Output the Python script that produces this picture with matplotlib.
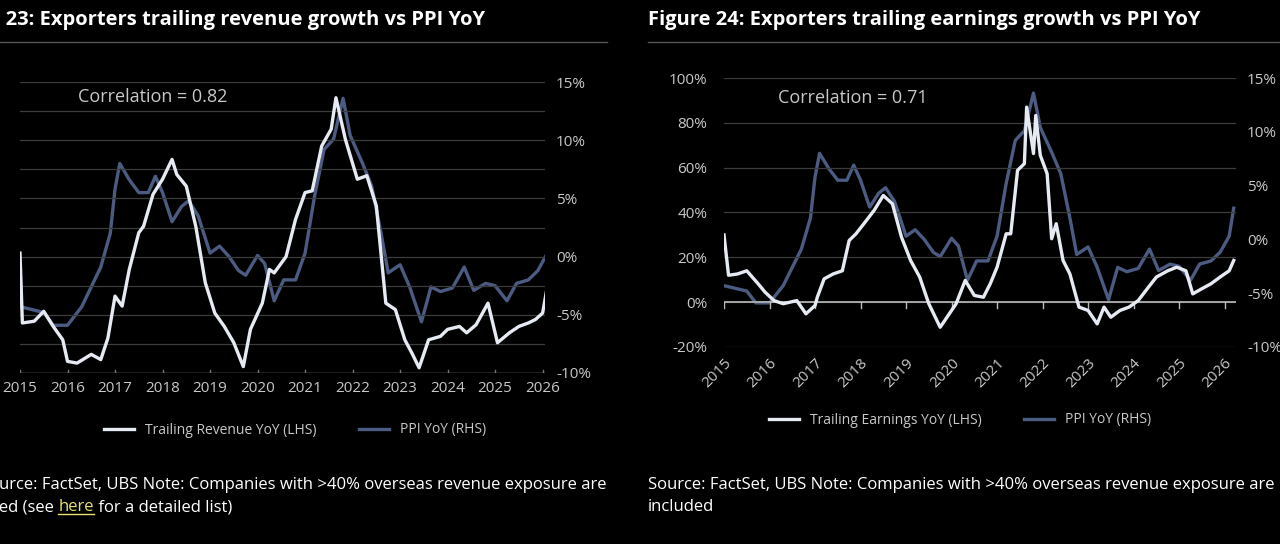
import matplotlib
matplotlib.use("Agg")
import matplotlib.pyplot as plt

plt.rcParams['font.family'] = ['Open Sans', 'DejaVu Sans']

# PPI YoY (%), shared by both panels
ppi_x = [2015.0, 2015.3, 2015.5, 2015.7, 2016.0, 2016.3, 2016.5, 2016.7, 2016.9, 2017.0,
         2017.1, 2017.3, 2017.5, 2017.7, 2017.85, 2018.0, 2018.2, 2018.4, 2018.55, 2018.75,
         2019.0, 2019.2, 2019.4, 2019.6, 2019.75, 2020.0, 2020.15, 2020.35, 2020.55, 2020.8,
         2021.0, 2021.2, 2021.4, 2021.6, 2021.8, 2021.95, 2022.2, 2022.4, 2022.6, 2022.75,
         2023.0, 2023.2, 2023.45, 2023.65, 2023.85, 2024.1, 2024.35, 2024.55, 2024.8, 2025.0,
         2025.25, 2025.45, 2025.7, 2025.9, 2026.1, 2026.2]
ppi_y = [-4.3, -4.6, -4.8, -5.9, -5.9, -4.3, -2.6, -0.9, 2.0, 5.8,
         8.0, 6.6, 5.5, 5.5, 6.9, 5.5, 3.0, 4.3, 4.8, 3.5,
         0.3, 0.9, 0.0, -1.2, -1.6, 0.1, -0.6, -3.8, -2.0, -2.0,
         0.3, 5.2, 9.2, 10.1, 13.6, 10.4, 8.1, 6.1, 2.0, -1.4,
         -0.7, -2.6, -5.6, -2.6, -3.0, -2.7, -0.9, -2.9, -2.3, -2.5,
         -3.8, -2.3, -2.0, -1.2, 0.3, 2.9]

# Trailing revenue YoY (%), LHS of figure 23
rev_x = [2015.0, 2015.05, 2015.3, 2015.5, 2015.7, 2015.9, 2016.0, 2016.2, 2016.5, 2016.7,
         2016.85, 2017.0, 2017.15, 2017.3, 2017.5, 2017.6, 2017.8, 2018.0, 2018.2, 2018.3,
         2018.5, 2018.7, 2018.9, 2019.1, 2019.3, 2019.5, 2019.7, 2019.85, 2020.1, 2020.25,
         2020.35, 2020.6, 2020.8, 2021.0, 2021.15, 2021.35, 2021.55, 2021.65, 2021.85, 2022.1,
         2022.3, 2022.5, 2022.7, 2022.9, 2023.1, 2023.25, 2023.4, 2023.6, 2023.85, 2024.0,
         2024.25, 2024.4, 2024.6, 2024.85, 2025.05, 2025.3, 2025.5, 2025.7, 2025.85, 2026.0,
         2026.1, 2026.2]
rev_y = [0.6, -11.4, -11.1, -9.4, -12.0, -14.3, -18.0, -18.3, -16.8, -17.7,
         -14.0, -6.8, -8.5, -2.2, 4.1, 5.2, 10.7, 13.3, 16.7, 14.1,
         12.1, 5.2, -4.5, -9.7, -12.0, -14.8, -18.9, -12.5, -8.0, -2.2,
         -2.8, 0.0, 6.4, 11.0, 11.3, 19.0, 21.9, 27.3, 20.1, 13.3,
         13.9, 8.7, -8.0, -9.1, -14.3, -16.6, -19.1, -14.3, -13.7, -12.5,
         -12.0, -13.1, -11.7, -8.0, -14.8, -13.1, -12.0, -11.4, -10.8, -9.7,
         -5.1, -3.4]

# Trailing earnings YoY (%), LHS of figure 24
ern_x = [2015.0, 2015.1, 2015.3, 2015.5, 2015.75, 2015.9, 2016.1, 2016.3, 2016.6, 2016.8,
         2017.0, 2017.05, 2017.2, 2017.4, 2017.6, 2017.75, 2017.9, 2018.1, 2018.3, 2018.5,
         2018.7, 2018.9, 2019.1, 2019.3, 2019.5, 2019.75, 2019.9, 2020.1, 2020.3, 2020.5,
         2020.7, 2020.85, 2021.0, 2021.2, 2021.3, 2021.45, 2021.6, 2021.65, 2021.8, 2021.85,
         2021.95, 2022.1, 2022.2, 2022.3, 2022.45, 2022.6, 2022.8, 2023.0, 2023.2, 2023.35,
         2023.5, 2023.7, 2023.9, 2024.1, 2024.3, 2024.5, 2024.75, 2024.95, 2025.15, 2025.3,
         2025.5, 2025.7, 2025.9, 2026.1, 2026.2]
ern_y = [30.0, 12.0, 12.6, 14.0, 8.2, 4.5, 0.7, -0.7, 0.7, -5.2,
         -1.5, 2.2, 10.4, 12.6, 14.0, 27.5, 30.5, 35.7, 41.0, 47.6,
         43.9, 29.0, 18.6, 11.2, -0.7, -11.2, -6.7, -0.7, 9.7, 3.0,
         2.2, 8.2, 15.6, 30.5, 30.5, 58.8, 61.8, 87.0, 66.3, 83.3,
         65.5, 57.3, 28.3, 35.0, 18.6, 12.6, -2.2, -3.7, -9.7, -2.2,
         -6.7, -3.7, -2.2, 0.7, 6.0, 11.2, 14.0, 15.6, 14.0, 3.7,
         6.0, 8.2, 11.2, 14.0, 18.6]

years = list(range(2015, 2027))
W, H = 1280, 544
WHITE = '#e6ebf3'
NAVY = '#4b5b82'
GRID = '#3c3c3c'
TXT = '#c8c8c8'


def box(x0, y0, x1, y1):
    return [x0 / W, 1 - y1 / H, (x1 - x0) / W, (y1 - y0) / H]


def style(ax):
    ax.set_facecolor('black')
    for s in ax.spines.values():
        s.set_visible(False)
    ax.tick_params(colors=TXT, labelsize=10.5, length=0)


fig = plt.figure(figsize=(12.8, 5.44), dpi=100, facecolor='black')

# ---- Figure 23 ----
ax1 = fig.add_axes(box(20, 82, 545, 373))
style(ax1)
ax1.set_xlim(2015, 2026.05)
ax1.set_ylim(-20, 30)
ax1.set_yticks(range(-20, 31, 5))
ax1.set_yticklabels([])
ax1.grid(axis='y', color=GRID, lw=0.9)
ax1.set_xticks(years)
ax1.set_xticklabels([str(y) for y in years])
ax1.tick_params(axis='x', labelsize=11, pad=6)
ax1.axhline(-20, color='#777777', lw=1)
for y in years:
    ax1.plot([y, y], [-20, -19.4], color='#777777', lw=1)
r1 = ax1.twinx()
style(r1)
r1.set_ylim(-10, 15)
r1.set_yticks(range(-10, 16, 5))
r1.set_yticklabels([f'{v}%' for v in range(-10, 16, 5)])
r1.tick_params(axis='y', labelsize=11, pad=8)
r1.plot(ppi_x, ppi_y, color=NAVY, lw=2.4, label='PPI YoY (RHS)')
l1, = ax1.plot(rev_x, rev_y, color=WHITE, lw=2.4, label='Trailing Revenue YoY (LHS)')
ax1.set_zorder(r1.get_zorder() + 1)
ax1.patch.set_visible(False)
ax1.text(0.11, 0.95, 'Correlation = 0.82', transform=ax1.transAxes, color=TXT,
         fontsize=13, va='center')
fig.legend(handles=[l1, r1.lines[0]], loc='center', bbox_to_anchor=(295 / W, 1 - 430 / H),
           ncol=2, frameon=False, labelcolor=TXT, fontsize=10, handlelength=2.2,
           columnspacing=3)

# ---- Figure 24 ----
ax2 = fig.add_axes(box(724, 78, 1236, 347))
style(ax2)
ax2.set_xlim(2015, 2026.25)
ax2.set_ylim(-20, 100)
ax2.set_yticks(range(-20, 101, 20))
ax2.set_yticklabels([f'{v}%' for v in range(-20, 101, 20)])
ax2.tick_params(axis='y', labelsize=11, pad=12)
ax2.grid(axis='y', color=GRID, lw=0.9)
ax2.set_xticks(years)
ax2.set_xticklabels([str(y) for y in years], rotation=45, ha='right', rotation_mode='anchor')
ax2.tick_params(axis='x', labelsize=11, pad=6)
ax2.axhline(0, color='#bbbbbb', lw=1.2)
for y in years:
    ax2.plot([y, y], [0, -2.5], color='#bbbbbb', lw=1)
r2 = ax2.twinx()
style(r2)
r2.set_ylim(-10, 15)
r2.set_yticks(range(-10, 16, 5))
r2.set_yticklabels([f'{v}%' for v in range(-10, 16, 5)])
r2.tick_params(axis='y', labelsize=11, pad=8)
r2.plot(ppi_x, ppi_y, color=NAVY, lw=2.4, label='PPI YoY (RHS)')
l2, = ax2.plot(ern_x, ern_y, color=WHITE, lw=2.4, label='Trailing Earnings YoY (LHS)')
ax2.set_zorder(r2.get_zorder() + 1)
ax2.patch.set_visible(False)
ax2.text(0.105, 0.925, 'Correlation = 0.71', transform=ax2.transAxes, color=TXT,
         fontsize=13, va='center')
fig.legend(handles=[l2, r2.lines[0]], loc='center', bbox_to_anchor=(960 / W, 1 - 420 / H),
           ncol=2, frameon=False, labelcolor=TXT, fontsize=10, handlelength=2.2,
           columnspacing=3)

# ---- titles, rules and notes ----
fig.text(-62 / W, 1 - 20 / H, 'Figure 23: Exporters trailing revenue growth vs PPI YoY',
         color='white', fontsize=14.5, fontweight='bold', va='center')
fig.text(648 / W, 1 - 20 / H, 'Figure 24: Exporters trailing earnings growth vs PPI YoY',
         color='white', fontsize=14.5, fontweight='bold', va='center')
fig.add_artist(plt.Line2D([0, 607 / W], [1 - 42 / H] * 2, color='#555555', lw=1))
fig.add_artist(plt.Line2D([648 / W, 1], [1 - 42 / H] * 2, color='#555555', lw=1))

NOTE = 'Source: FactSet, UBS Note: Companies with >40% overseas revenue exposure are'
fig.text(607 / W, 1 - 485 / H, NOTE, color='white', fontsize=12, va='center', ha='right')
fig.text(648 / W, 1 - 485 / H, NOTE, color='white', fontsize=12, va='center')
fig.text(648 / W, 1 - 507 / H, 'included', color='white', fontsize=12, va='center')

fig.canvas.draw()
rend = fig.canvas.get_renderer()
t1 = fig.text(-48 / W, 1 - 507 / H, 'included (see ', color='white', fontsize=12, va='center')
x = t1.get_window_extent(rend).x1
t2 = fig.text(x / W, 1 - 507 / H, 'here', color='#e8e070', fontsize=12, va='center')
bb = t2.get_window_extent(rend)
fig.add_artist(plt.Line2D([bb.x0 / W, bb.x1 / W], [(bb.y0 + 1) / H] * 2, color='#e8e070', lw=1))
fig.text(bb.x1 / W, 1 - 507 / H, ' for a detailed list)', color='white', fontsize=12, va='center')

fig.savefig('out.png', dpi=100, facecolor='black')
